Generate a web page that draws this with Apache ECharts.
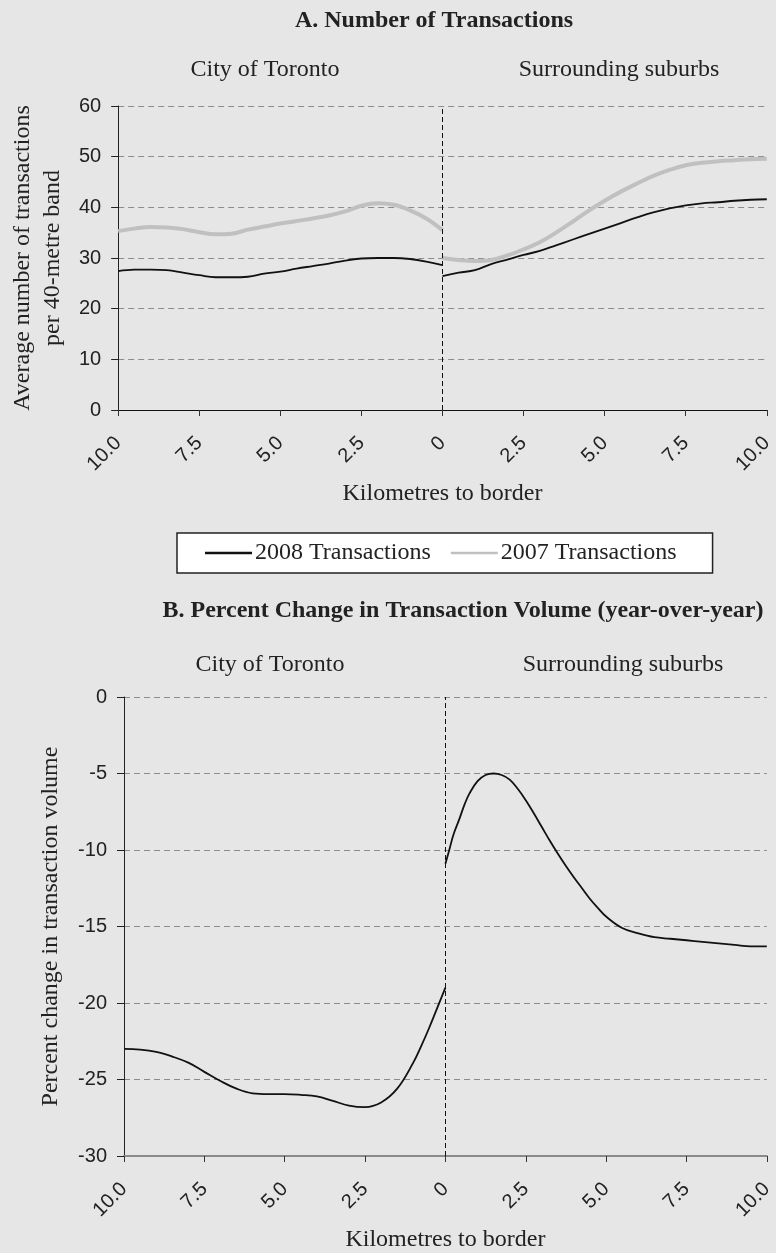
<!DOCTYPE html>
<html>
<head>
<meta charset="utf-8">
<script src="https://cdn.jsdelivr.net/npm/echarts@6/dist/echarts.min.js"></script>
<style>
html,body{margin:0;padding:0;background:#e6e6e6;}
#c{width:776px;height:1253px;}
</style>
</head>
<body>
<div id="c"></div>
<script>
// ---------- Data ----------
// Kilometres to border: negative = City of Toronto side, positive = surrounding suburbs
const kmLeftA  = [-10,-9.5,-9,-8.5,-8,-7.5,-7,-6.5,-6,-5.5,-5,-4.5,-4,-3.5,-3,-2.5,-2,-1.5,-1,-0.5,0];
const kmRightA = [0,0.5,1,1.5,2,2.5,3,3.5,4,4.5,5,5.5,6,6.5,7,7.5,8,8.5,9,9.5,10];
const tx2008Left  = [27.4,27.7,27.7,27.6,27.1,26.6,26.2,26.2,26.3,26.9,27.3,27.9,28.4,28.9,29.5,29.9,30.0,30.0,29.8,29.3,28.6];
const tx2008Right = [26.4,27.1,27.6,28.8,29.7,30.6,31.4,32.5,33.6,34.7,35.8,36.9,38.0,39.0,39.8,40.4,40.8,41.0,41.3,41.5,41.6];
const tx2007Left  = [35.3,35.8,36.1,36.0,35.7,35.1,34.7,34.8,35.6,36.2,36.8,37.3,37.8,38.4,39.2,40.3,40.8,40.5,39.4,37.8,35.5];
const tx2007Right = [30.0,29.6,29.4,29.6,30.5,31.7,33.1,35.0,37.1,39.3,41.3,43.1,44.7,46.2,47.4,48.3,48.8,49.1,49.3,49.5,49.6];

const kmLeftB  = [-10,-9.5,-9,-8.5,-8,-7.5,-7,-6.5,-6,-5.5,-5,-4.5,-4,-3.5,-3,-2.5,-2,-1.5,-1,-0.75,-0.5,-0.25,0];
const pctLeft  = [-23.0,-23.05,-23.2,-23.5,-23.9,-24.5,-25.1,-25.6,-25.9,-25.95,-25.95,-26.0,-26.1,-26.4,-26.7,-26.8,-26.5,-25.6,-23.9,-22.8,-21.6,-20.3,-19.0];
const kmRightB = [0,0.12,0.25,0.43,0.6,0.75,1,1.25,1.5,1.75,2,2.25,2.5,2.75,3,3.25,3.5,3.75,4,4.25,4.5,4.75,5,5.5,6,6.5,7,7.5,8,8.5,9,9.5,10];
const pctRight = [-10.9,-10.0,-9.0,-8.0,-7.0,-6.3,-5.5,-5.1,-5.0,-5.1,-5.4,-6.0,-6.75,-7.6,-8.5,-9.4,-10.25,-11.05,-11.8,-12.5,-13.2,-13.8,-14.35,-15.1,-15.45,-15.7,-15.8,-15.9,-16.0,-16.1,-16.2,-16.3,-16.3];

const xTickStep = 2.5;
const yTicksA = {min:0, max:60, step:10};
const yTicksB = {min:-30, max:0, step:5};

const titleA = 'A. Number of Transactions';
const titleB = 'B. Percent Change in Transaction Volume (year-over-year)';
const sideLeft = 'City of Toronto';
const sideRight = 'Surrounding suburbs';
const xName = 'Kilometres to border';
const yNameA = 'Average number of transactions\nper 40-metre band';
const yNameB = 'Percent change in transaction volume';
const name2008 = '2008 Transactions';
const name2007 = '2007 Transactions';

// ---------- Chart ----------
const zip = (xs, ys) => xs.map((x, i) => [x, ys[i]]);
const SERIF = "'Liberation Serif', 'DejaVu Serif', serif";
const SANS = "'Liberation Sans', Arial, sans-serif";
const TXT = '#222';
const BLACK = '#111111';
const GREY = '#c0c0c0';

const kmFmt = v => v === 0 ? '0' : Math.abs(v).toFixed(1);

function xAxis(gridIndex, lineColor, lineWidth) {
  return {
    type: 'value', gridIndex, min: -10, max: 10, interval: xTickStep,
    name: xName, nameLocation: 'middle', nameGap: 72,
    nameTextStyle: {fontFamily: SERIF, fontSize: 24, color: TXT},
    axisLine: {show: true, onZero: false, lineStyle: {color: lineColor, width: lineWidth}},
    axisTick: {show: true, length: 6, lineStyle: {color: '#333', width: 1}},
    axisLabel: {rotate: 45, margin: 30, fontFamily: SANS, fontSize: 20, color: TXT, formatter: kmFmt,
                showMinLabel: true, showMaxLabel: true},
    splitLine: {show: false}
  };
}
function yAxis(gridIndex, t, name, gap) {
  return {
    type: 'value', gridIndex, min: t.min, max: t.max, interval: t.step,
    name, nameLocation: 'middle', nameGap: gap, nameRotate: 90,
    nameTextStyle: {fontFamily: SERIF, fontSize: 24, color: TXT, lineHeight: 30},
    axisLine: {show: true, onZero: false, lineStyle: {color: '#222', width: 1}},
    axisTick: {show: true, length: 7, lineStyle: {color: '#222'}},
    axisLabel: {margin: 17, fontFamily: SANS, fontSize: 20, color: TXT},
    splitLine: {show: true, lineStyle: {color: '#8c8c8c', type: [6, 4], width: 1}}
  };
}
const borderMark = {
  silent: true, symbol: ['none', 'none'], label: {show: false},
  lineStyle: {color: '#111', type: [5, 3], width: 1},
  data: [{xAxis: 0}]
};
function line(name, data, xi, color, width, mark) {
  const s = {
    name, type: 'line', xAxisIndex: xi, yAxisIndex: xi, data,
    showSymbol: false, symbol: 'none', smooth: 0.4, animation: false,
    lineStyle: {color, width}, itemStyle: {color}, z: 3
  };
  if (mark) s.markLine = borderMark;
  return s;
}

const chart = echarts.init(document.getElementById('c'), null, {renderer: 'canvas'});
chart.setOption({
  backgroundColor: '#e6e6e6',
  animation: false,
  grid: [
    {left: 118, top: 106, width: 658, height: 304},
    {left: 124, top: 697, width: 652, height: 460}
  ],
  xAxis: [xAxis(0, '#111', 1.2), xAxis(1, '#8a8a8a', 2)],
  yAxis: [yAxis(0, yTicksA, yNameA, 50), yAxis(1, yTicksB, yNameB, 58)],
  legend: {
    data: [
      {name: name2008, icon: 'rect', itemStyle: {color: BLACK}},
      {name: name2007, icon: 'rect', itemStyle: {color: GREY}}
    ],
    left: 177, top: 533,
    padding: [8, 36, 8, 28],
    itemWidth: 47, itemHeight: 2.5, itemGap: 20,
    backgroundColor: '#ffffff', borderColor: '#222', borderWidth: 1.5, borderRadius: 0,
    textStyle: {fontFamily: SERIF, fontSize: 24, color: TXT, lineHeight: 24, padding: [0, 0, 0, -2]},
    selectedMode: false
  },
  graphic: [
    {type: 'text', style: {text: titleA, font: "bold 24px 'Liberation Serif', serif", fill: TXT, textAlign: 'center', textVerticalAlign: 'middle'}, position: [434, 21]},
    {type: 'text', style: {text: sideLeft, font: "24px 'Liberation Serif', serif", fill: TXT, textAlign: 'center', textVerticalAlign: 'middle'}, position: [265, 70]},
    {type: 'text', style: {text: sideRight, font: "24px 'Liberation Serif', serif", fill: TXT, textAlign: 'center', textVerticalAlign: 'middle'}, position: [619, 70]},
    {type: 'text', style: {text: titleB, font: "bold 24px 'Liberation Serif', serif", fill: TXT, textAlign: 'center', textVerticalAlign: 'middle'}, position: [463, 611]},
    {type: 'text', style: {text: sideLeft, font: "24px 'Liberation Serif', serif", fill: TXT, textAlign: 'center', textVerticalAlign: 'middle'}, position: [270, 665]},
    {type: 'text', style: {text: sideRight, font: "24px 'Liberation Serif', serif", fill: TXT, textAlign: 'center', textVerticalAlign: 'middle'}, position: [623, 665]}
  ],
  series: [
    line(name2007, zip(kmLeftA, tx2007Left), 0, GREY, 4, false),
    line(name2007, zip(kmRightA, tx2007Right), 0, GREY, 4, false),
    line(name2008, zip(kmLeftA, tx2008Left), 0, BLACK, 1.8, true),
    line(name2008, zip(kmRightA, tx2008Right), 0, BLACK, 1.8, false),
    line('Percent change', zip(kmLeftB, pctLeft), 1, BLACK, 1.8, true),
    line('Percent change', zip(kmRightB, pctRight), 1, BLACK, 1.8, false)
  ]
});
</script>
</body>
</html>
